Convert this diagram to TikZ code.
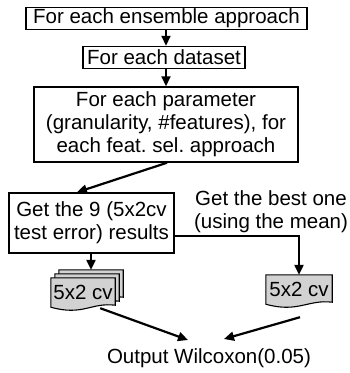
\documentclass[tikz,border=0pt]{standalone}
\usepackage{fontspec}
\setmainfont{Liberation Sans}
\usetikzlibrary{arrows.meta,calc}
\newcommand{\docshape}[1]{\draw[doc] (#1.north west) -- (#1.north east) -- ($(#1.south east)+(0,-2)$) .. controls ($(#1.south east)+(-24,-5)$) and ($(#1.south west)+(32,9)$) .. (#1.south west) -- cycle;}
\begin{document}
\begin{tikzpicture}[x=1pt,y=-1pt,
  font=\fontsize{20.5}{23}\selectfont,
  box/.style={draw, line width=1.5pt, minimum width=#1, inner sep=0pt, align=center},
  arr/.style={line width=2.2pt, -{Triangle[length=10pt,width=9pt]}},
  doc/.style={draw, line width=1.1pt, fill=gray!35},
  docnode/.style={inner sep=0pt, minimum width=64pt, minimum height=29pt},
  lbl/.style={inner sep=0pt, align=center}]
\useasboundingbox (0,0) rectangle (350,373);
% boxes
\node[box=281pt, minimum height=22pt] (b1) at (166.5,18.5) {For each ensemble approach};
\node[box=162pt, minimum height=22pt] (b2) at (164,57.5) {For each dataset};
\node[box=264pt, minimum height=75pt] (b3) at (166,124.5) {For each parameter\\(granularity, \#features), for\\each feat.\ sel.\ approach};
\node[box=165pt, minimum height=60pt] (b4) at (91.5,223) {Get the 9 (5x2cv\\test error) results};
\node[lbl] (lab) at (271,212) {Get the best one\\(using the mean)};
% documents
\node[docnode] (d1c) at (91,284.5) {};
\node[docnode] (d1b) at (87,288.5) {};
\node[docnode] (d1) at (83,292.5) {};
\node[docnode, minimum width=66pt] (d2) at (299,289.5) {};
\docshape{d1c}
\docshape{d1b}
\docshape{d1}
\docshape{d2}
\node[inner sep=0pt] at (d1) {5x2 cv};
\node[inner sep=0pt] at (d2) {5x2 cv};
\node[lbl] (out) at (209,358) {Output Wilcoxon(0.05)};
\coordinate (o1) at (188,340);
\coordinate (o2) at (224,339);
% connectors
\draw[arr] (b1.south -| 166,0) -- (b2.north -| 166,0);
\draw[arr] (b2.south -| 166,0) -- (b3.north -| 166,0);
\draw[arr] ($(b3.south)+(1,0)$) -- ($(b4.north)+(-14.5,0)$);
\draw[arr] (d1c.north |- b4.south) -- (d1c.north);
\draw[arr] ($(b4.east)+(0,13)$) -| (d2.north);
\draw[arr] ($(d1.south east)+(-15,1)$) -- (o1);
\draw[arr] ($(d2.south)+(1,13)$) -- (o2);
\end{tikzpicture}
\end{document}
